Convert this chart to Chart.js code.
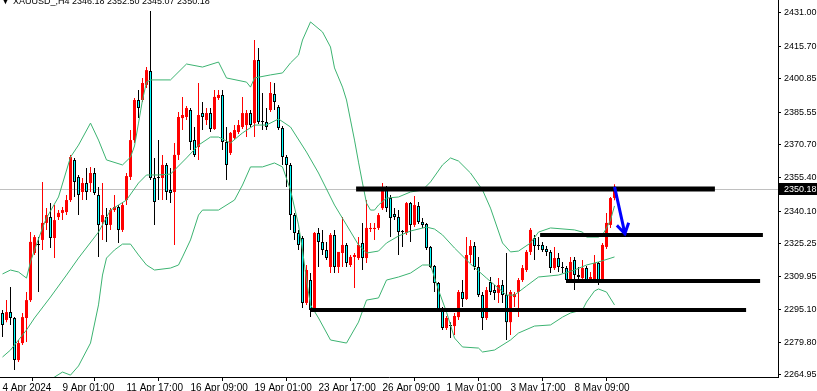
<!DOCTYPE html>
<html>
<head>
<meta charset="utf-8">
<script src="https://cdn.jsdelivr.net/npm/chart.js@4.4.1/dist/chart.umd.min.js"></script>
<style>
  html, body { margin: 0; padding: 0; background: #fff; }
  canvas { display: block; }
</style>
</head>
<body>
<canvas id="grafico" width="817" height="391"></canvas>
<script>
// XAUUSD H4 candles (index 0 = first visible bar)
const opens = [
  2293.4, 2290.2, 2293.8, 2291.1, 2271.8, 2279.6, 2291.1, 2299.3, 2320.9, 2324.6,
  2326.9, 2334.7, 2337.4, 2327.8, 2337.4, 2339.3, 2339.7, 2345.2, 2363.6, 2355.8,
  2348.9, 2353.0, 2353.0, 2357.6, 2347.5, 2335.1, 2337.4, 2333.8, 2340.6, 2342.0,
  2331.5, 2345.2, 2355.8, 2372.7, 2391.1, 2391.1, 2398.0, 2404.4, 2355.3, 2355.3,
  2355.3, 2361.3, 2349.8, 2348.9, 2365.9, 2382.8, 2383.3, 2386.5, 2372.7, 2369.5,
  2385.1, 2381.9, 2385.1, 2377.8, 2392.0, 2393.4, 2371.8, 2366.8, 2373.7, 2376.4,
  2378.7, 2379.6, 2385.1, 2380.5, 2409.4, 2381.0, 2381.0, 2386.5, 2393.8, 2387.9,
  2378.2, 2364.9, 2361.3, 2338.3, 2330.1, 2327.8, 2298.0, 2308.5, 2294.8, 2330.1,
  2326.0, 2322.3, 2314.5, 2329.2, 2314.5, 2320.9, 2324.6, 2315.4, 2319.1, 2318.6,
  2325.5, 2318.6, 2331.9, 2331.9, 2332.4, 2341.5, 2351.2, 2346.1, 2338.8, 2337.4,
  2330.5, 2330.1, 2343.8, 2333.8, 2342.5, 2335.1, 2334.2, 2323.7, 2314.9, 2307.1,
  2295.2, 2286.5, 2287.4, 2287.4, 2291.5, 2303.0, 2299.8, 2320.0, 2324.1, 2314.5,
  2301.6, 2291.1, 2307.6, 2303.9, 2302.6, 2306.2, 2301.6, 2289.2, 2300.7, 2303.0,
  2308.5, 2313.1, 2321.4, 2327.8, 2324.1, 2324.6, 2322.7, 2321.4, 2314.0, 2318.6,
  2314.0, 2314.0, 2308.5, 2317.7, 2310.8, 2309.4, 2314.0, 2308.5, 2308.5, 2316.3,
  2308.5, 2323.7, 2333.8, 2346.18
];
const highs = [
  2294.8, 2299.3, 2305.3, 2291.5, 2281.0, 2293.4, 2303.0, 2330.5, 2329.2, 2328.2,
  2353.5, 2341.5, 2343.8, 2342.9, 2340.6, 2342.0, 2347.5, 2365.9, 2364.5, 2356.7,
  2355.3, 2359.9, 2360.4, 2359.9, 2351.2, 2353.0, 2341.5, 2341.5, 2347.5, 2342.9,
  2343.8, 2357.6, 2377.3, 2392.0, 2395.7, 2401.2, 2406.2, 2431.9, 2364.5, 2372.7,
  2365.9, 2362.2, 2359.9, 2371.4, 2385.6, 2392.5, 2388.3, 2387.4, 2378.7, 2398.9,
  2390.2, 2387.4, 2387.4, 2395.7, 2395.7, 2395.7, 2378.7, 2376.4, 2379.6, 2381.9,
  2392.5, 2386.5, 2386.5, 2418.6, 2414.9, 2394.3, 2387.4, 2399.3, 2398.9, 2388.8,
  2379.2, 2365.9, 2362.2, 2339.3, 2331.5, 2328.7, 2315.4, 2311.7, 2330.5, 2332.4,
  2331.5, 2326.0, 2330.1, 2331.5, 2321.4, 2337.4, 2325.5, 2320.0, 2320.9, 2328.2,
  2334.7, 2345.2, 2334.7, 2334.7, 2339.3, 2353.0, 2351.6, 2347.5, 2341.5, 2340.6,
  2331.5, 2344.3, 2344.3, 2347.1, 2344.3, 2337.0, 2334.7, 2324.1, 2315.4, 2307.6,
  2296.1, 2292.0, 2289.2, 2293.4, 2303.9, 2308.5, 2328.2, 2326.9, 2326.0, 2319.1,
  2303.0, 2305.3, 2309.9, 2306.2, 2309.4, 2308.5, 2320.9, 2303.9, 2303.0, 2309.4,
  2315.4, 2322.3, 2332.4, 2329.2, 2328.2, 2326.0, 2324.1, 2322.3, 2323.7, 2320.9,
  2316.8, 2314.9, 2319.1, 2319.1, 2314.5, 2317.7, 2314.9, 2312.2, 2320.0, 2316.8,
  2325.5, 2339.3, 2346.6, 2352.50
];
const lows = [
  2282.4, 2289.2, 2287.9, 2267.2, 2270.9, 2278.7, 2280.1, 2298.4, 2320.0, 2303.0,
  2322.3, 2331.5, 2323.2, 2318.6, 2336.0, 2336.0, 2338.3, 2344.3, 2346.6, 2338.3,
  2345.2, 2345.2, 2348.9, 2347.5, 2319.1, 2326.9, 2326.0, 2331.5, 2339.7, 2325.5,
  2330.5, 2342.9, 2354.4, 2371.4, 2382.8, 2390.2, 2396.6, 2354.4, 2333.8, 2345.2,
  2345.2, 2345.2, 2343.8, 2324.6, 2363.6, 2377.3, 2381.9, 2368.2, 2364.9, 2363.6,
  2377.3, 2379.6, 2376.4, 2377.3, 2391.1, 2368.2, 2354.4, 2365.9, 2372.7, 2375.5,
  2377.8, 2374.1, 2378.7, 2374.1, 2380.1, 2377.3, 2377.3, 2385.6, 2386.5, 2377.3,
  2361.3, 2351.2, 2331.5, 2326.9, 2322.3, 2295.7, 2297.1, 2291.5, 2293.8, 2314.5,
  2320.0, 2317.7, 2311.7, 2311.7, 2311.7, 2314.5, 2314.5, 2314.5, 2304.8, 2317.7,
  2313.1, 2316.3, 2330.5, 2326.9, 2331.5, 2340.6, 2339.7, 2328.2, 2336.0, 2320.0,
  2323.7, 2329.2, 2326.0, 2332.8, 2334.2, 2332.4, 2322.3, 2314.0, 2303.0, 2294.8,
  2285.6, 2285.6, 2281.9, 2283.3, 2290.2, 2296.1, 2299.3, 2316.3, 2313.1, 2300.7,
  2285.6, 2290.2, 2301.6, 2299.3, 2298.0, 2298.0, 2281.0, 2283.3, 2296.1, 2291.5,
  2307.6, 2312.2, 2320.0, 2317.7, 2322.3, 2321.4, 2319.5, 2311.7, 2313.1, 2312.2,
  2311.7, 2307.1, 2307.6, 2303.9, 2308.5, 2308.5, 2307.6, 2307.6, 2308.1, 2306.2,
  2307.6, 2322.7, 2332.4, 2345.07
];
const closes = [
  2287.9, 2293.8, 2291.1, 2271.8, 2279.6, 2291.5, 2299.3, 2326.0, 2328.2, 2324.6,
  2334.7, 2338.3, 2327.8, 2336.0, 2339.3, 2340.6, 2345.2, 2364.9, 2353.5, 2347.5,
  2353.0, 2348.9, 2357.6, 2348.4, 2333.8, 2338.3, 2333.8, 2340.6, 2342.0, 2331.5,
  2342.9, 2356.2, 2372.7, 2391.1, 2387.4, 2398.9, 2404.8, 2355.3, 2344.3, 2355.3,
  2361.3, 2348.9, 2348.4, 2365.9, 2383.3, 2384.2, 2387.4, 2371.8, 2365.9, 2384.2,
  2383.3, 2385.1, 2377.8, 2392.5, 2393.4, 2371.8, 2361.3, 2376.0, 2377.3, 2379.6,
  2385.1, 2385.1, 2379.6, 2409.4, 2381.0, 2381.0, 2378.7, 2394.3, 2390.2, 2378.2,
  2364.9, 2361.3, 2338.3, 2330.1, 2324.6, 2298.0, 2313.1, 2294.8, 2330.1, 2326.0,
  2322.3, 2318.6, 2329.2, 2314.5, 2321.4, 2324.6, 2316.3, 2319.1, 2320.0, 2324.6,
  2318.6, 2332.4, 2332.4, 2332.4, 2338.3, 2349.8, 2341.5, 2337.0, 2337.4, 2330.5,
  2330.5, 2343.8, 2333.8, 2342.9, 2335.1, 2333.8, 2323.2, 2314.5, 2307.1, 2295.2,
  2286.5, 2291.1, 2287.4, 2292.0, 2303.0, 2299.8, 2320.0, 2324.1, 2314.5, 2301.6,
  2291.1, 2303.9, 2303.0, 2302.6, 2306.2, 2301.6, 2289.2, 2303.0, 2302.1, 2308.5,
  2314.0, 2321.4, 2331.5, 2324.1, 2324.1, 2322.3, 2321.4, 2314.0, 2318.6, 2314.5,
  2314.0, 2308.5, 2316.8, 2310.8, 2309.9, 2314.0, 2308.5, 2309.9, 2316.3, 2308.5,
  2324.6, 2334.7, 2346.1, 2350.18
];

// Bollinger bands, [bar index, price] read at points along each line
const upperBand = [
  [0, 2311.3], [2, 2313.1], [4, 2312.2], [6, 2309.4], [7, 2316.8], [8, 2322.3], [10, 2332.4], [11, 2337.0],
  [14, 2346.6], [17, 2364.9], [19, 2370.4], [22, 2380.5], [24, 2372.7], [26, 2363.6], [30, 2361.3], [32, 2364.9],
  [33, 2370.0], [34, 2380.5], [35, 2391.1], [36, 2399.3], [37, 2400.3], [42, 2400.3], [46, 2407.6], [50, 2406.2],
  [54, 2408.5], [56, 2401.2], [61, 2399.3], [62, 2397.0], [63, 2401.2], [67, 2402.6], [70, 2403.5], [72, 2408.1],
  [74, 2411.7], [75, 2418.6], [77, 2426.9], [80, 2422.3], [82, 2415.4], [83, 2405.8], [85, 2397.0], [86, 2391.1],
  [87, 2381.9], [88, 2372.7], [89, 2362.6], [90, 2353.0], [91, 2343.8], [92, 2340.6], [93, 2340.6], [94, 2342.9],
  [96, 2346.1], [99, 2346.6], [102, 2348.9], [105, 2349.8], [107, 2353.5], [110, 2361.3], [112, 2364.5], [114, 2363.1],
  [117, 2357.6], [120, 2349.8], [122, 2341.5], [125, 2325.5], [127, 2321.4], [129, 2321.8], [132, 2325.5], [134, 2330.5],
  [137, 2332.4], [143, 2331.5], [145, 2330.5], [146, 2328.2], [149, 2328.2], [150, 2329.2], [151, 2332.4], [152, 2336.0],
  [153, 2342.5]
];
const middleBand = [
  [0, 2273.2], [2, 2276.4], [4, 2281.0], [6, 2285.6], [8, 2291.1], [12, 2300.7], [16, 2310.8], [19, 2318.6],
  [24, 2330.5], [27, 2340.6], [31, 2345.2], [34, 2353.0], [36, 2356.7], [39, 2356.7], [42, 2357.1], [46, 2364.5],
  [49, 2370.4], [52, 2374.1], [54, 2374.1], [57, 2371.4], [60, 2376.0], [63, 2379.6], [66, 2379.6], [69, 2382.4],
  [72, 2378.7], [76, 2367.2], [79, 2357.6], [83, 2342.9], [86, 2333.8], [89, 2324.6], [91, 2320.9], [94, 2321.8],
  [96, 2325.5], [99, 2328.7], [102, 2331.0], [106, 2332.8], [108, 2331.9], [110, 2329.2], [113, 2323.2], [117, 2315.9],
  [121, 2309.4], [126, 2301.6], [128, 2301.6], [131, 2305.8], [134, 2309.9], [139, 2310.8], [143, 2313.1], [146, 2315.4],
  [149, 2316.8], [153, 2319.1]
];
const lowerBand = [
  [12, 2262.6], [13, 2264.0], [15, 2266.3], [17, 2264.9], [19, 2269.1], [22, 2279.6], [24, 2297.1], [25, 2310.8],
  [26, 2318.6], [28, 2322.3], [30, 2325.0], [32, 2325.0], [34, 2320.0], [36, 2315.4], [38, 2313.1], [42, 2314.0],
  [44, 2315.4], [45, 2319.1], [47, 2326.9], [49, 2338.3], [50, 2340.6], [54, 2340.6], [58, 2345.2], [60, 2352.1],
  [62, 2360.4], [65, 2360.4], [68, 2362.2], [70, 2360.4], [72, 2349.8], [74, 2333.8], [75, 2322.3], [76, 2308.5],
  [77, 2297.1], [79, 2291.1], [82, 2281.0], [86, 2279.6], [89, 2289.2], [91, 2299.3], [94, 2300.3], [96, 2308.5],
  [99, 2309.9], [102, 2311.7], [105, 2315.4], [107, 2315.4], [109, 2303.9], [111, 2293.8], [113, 2281.9], [115, 2277.8],
  [119, 2277.3], [120, 2275.5], [123, 2276.4], [127, 2281.0], [129, 2284.2], [133, 2287.4], [137, 2287.9], [140, 2291.5],
  [142, 2293.4], [145, 2294.8], [146, 2298.4], [148, 2303.5], [149, 2304.4], [151, 2303.0], [153, 2297.1]
];

// axis ticks
const yTickValues = [2431.00, 2415.70, 2400.85, 2385.55, 2370.70, 2355.40, 2340.10, 2325.25, 2309.95, 2295.10, 2279.80, 2264.95];
const xTickPos = [0, 15, 31, 47, 63, 79, 95, 111, 127, 143];
const xTickText = ['4 Apr 2024', '9 Apr 01:00', '11 Apr 17:00', '16 Apr 09:00', '19 Apr 01:00',
  '23 Apr 17:00', '26 Apr 09:00', '1 May 01:00', '3 May 17:00', '8 May 09:00'];

// drawn objects: horizontal levels and the blue arrow
const levelPrices = [2350.1, 2329.0, 2307.9, 2294.8];
const levelFrom = [88.4, 134.4, 140.9, 76.9];
const levelTo = [178.1, 190.1, 189.4, 185.9];
const arrowIdx = [153.1, 155.6];
const arrowPrice = [2350.6, 2329.8];

const symbol = 'XAUUSD_,H4';
const lastBar = [2346.18, 2352.50, 2345.07, 2350.18];
const lastPrice = 2350.18;

const N = 195; // bar slots across the plot (chart shifted to the left)
const labels = Array.from({ length: N }, (_, i) => i);

const wickData = highs.map((h, i) => [lows[i], h]);
const wickColors = closes.map((c, i) => c > opens[i] ? '#ff0000' : '#000000');
const upBodies = opens.map((o, i) => closes[i] > o ? [o, closes[i]] : null);
const downBodies = opens.map((o, i) => closes[i] > o ? null : [closes[i], o]);

function fullLine(pairs) {
  const arr = new Array(N).fill(null);
  pairs.forEach(([i, v]) => { arr[i] = v; });
  return arr;
}

const bandStyle = {
  type: 'line', borderColor: '#3cb371', borderWidth: 1, pointRadius: 0,
  spanGaps: true, tension: 0, order: 0
};

const overlay = {
  id: 'overlay',
  beforeDatasetsDraw(chart) {
    const { ctx, chartArea: a, scales: { y } } = chart;
    const py = Math.round(y.getPixelForValue(lastPrice)) + 0.5;
    ctx.save();
    ctx.strokeStyle = '#c0c0c0';
    ctx.lineWidth = 1;
    ctx.beginPath();
    ctx.moveTo(a.left, py);
    ctx.lineTo(a.right, py);
    ctx.stroke();
    ctx.restore();
  },
  afterDatasetsDraw(chart) {
    const { ctx, scales: { x, y } } = chart;
    ctx.save();
    ctx.strokeStyle = '#000';
    levelPrices.forEach((p, k) => {
      const py = Math.round(y.getPixelForValue(p));
      ctx.lineWidth = k === 0 ? 5 : 4;
      ctx.beginPath();
      ctx.moveTo(x.getPixelForValue(levelFrom[k]), py);
      ctx.lineTo(x.getPixelForValue(levelTo[k]), py);
      ctx.stroke();
    });
    // blue arrow
    const x0 = x.getPixelForValue(arrowIdx[0]), y0 = y.getPixelForValue(arrowPrice[0]);
    const x1 = x.getPixelForValue(arrowIdx[1]), y1 = y.getPixelForValue(arrowPrice[1]);
    const ang = Math.atan2(y1 - y0, x1 - x0);
    ctx.strokeStyle = '#0000ff';
    ctx.lineWidth = 3;
    ctx.lineCap = 'square';
    ctx.beginPath();
    ctx.moveTo(x0, y0);
    ctx.lineTo(x1, y1);
    ctx.moveTo(x1 - 10 * Math.cos(ang - 0.55), y1 - 10 * Math.sin(ang - 0.55));
    ctx.lineTo(x1, y1);
    ctx.lineTo(x1 - 10 * Math.cos(ang + 0.55), y1 - 10 * Math.sin(ang + 0.55));
    ctx.stroke();
    ctx.restore();
  },
  afterDraw(chart) {
    const { ctx, chartArea: a, scales: { y } } = chart;
    ctx.save();
    // current price tag on the axis
    const py = Math.round(y.getPixelForValue(lastPrice));
    ctx.fillStyle = '#000';
    ctx.fillRect(a.right + 1, py - 6, chart.width - a.right - 1, 12);
    ctx.fillStyle = '#fff';
    ctx.font = '9px "Liberation Sans", Arial, sans-serif';
    ctx.textBaseline = 'middle';
    ctx.fillText(lastPrice.toFixed(2), a.right + 6, py + 0.5);
    // header, cut at the top like the terminal
    ctx.fillStyle = '#000';
    ctx.textBaseline = 'alphabetic';
    ctx.fillText('\u25BC', 1, 4);
    ctx.fillText(symbol + ' ' + lastBar.map(v => v.toFixed(2)).join(' '), 13, 4);
    ctx.restore();
  }
};

Chart.defaults.font.family = '"Liberation Sans", Arial, sans-serif';
Chart.defaults.color = '#000';

new Chart(document.getElementById('grafico'), {
  type: 'bar',
  data: {
    labels: labels,
    datasets: [
      { ...bandStyle, data: fullLine(upperBand) },
      { ...bandStyle, data: fullLine(middleBand) },
      { ...bandStyle, data: fullLine(lowerBand) },
      {
        data: upBodies, backgroundColor: '#ff0000', borderWidth: 0, barThickness: 3,
        grouped: false, inflateAmount: 0, borderSkipped: false, order: 1
      },
      {
        data: downBodies, backgroundColor: '#00ffff', borderColor: '#000000', borderWidth: 1,
        barThickness: 3, minBarLength: 1, grouped: false, inflateAmount: 0, borderSkipped: false, order: 1
      },
      {
        data: wickData, backgroundColor: wickColors, borderWidth: 0, barThickness: 1,
        grouped: false, inflateAmount: 0, order: 2
      }
    ]
  },
  options: {
    responsive: false,
    animation: false,
    devicePixelRatio: 1,
    layout: { padding: 0 },
    plugins: { legend: { display: false }, tooltip: { enabled: false } },
    scales: {
      x: {
        type: 'linear',
        position: 'bottom',
        min: -0.625,
        max: 193.875,
        offset: false,
        afterBuildTicks: s => { s.ticks = xTickPos.map(v => ({ value: v })); },
        afterFit: s => { s.height = 14; s.paddingLeft = 0; s.paddingRight = 0; },
        grid: {
          drawOnChartArea: false, tickLength: 4,
          tickColor: c => (c.tick && c.tick.value === 0) ? 'rgba(0,0,0,0)' : '#000'
        },
        border: { color: '#000', width: 1 },
        ticks: {
          autoSkip: false, maxRotation: 0, align: 'start', padding: 1,
          font: { size: 10 }, color: '#000',
          callback: v => xTickText[xTickPos.indexOf(v)]
        }
      },
      y: {
        position: 'right',
        min: 2264.03,
        max: 2436.96,
        afterBuildTicks: s => { s.ticks = yTickValues.map(v => ({ value: v })); },
        afterFit: s => { s.width = 39; s.paddingTop = 0; s.paddingBottom = 0; },
        grid: { drawOnChartArea: false, tickLength: 3, tickColor: '#000' },
        border: { color: '#000', width: 1 },
        ticks: { padding: 3, font: { size: 9 }, color: '#000', callback: v => v.toFixed(2) }
      }
    }
  },
  plugins: [overlay]
});
</script>
</body>
</html>
